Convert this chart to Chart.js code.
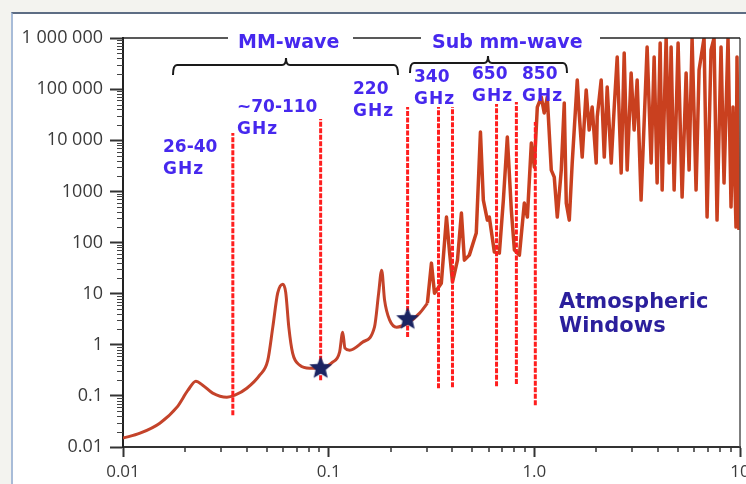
<!DOCTYPE html>
<html>
<head>
<meta charset="utf-8">
<script src="https://cdn.jsdelivr.net/npm/chart.js@4"></script>
<style>
  html, body { margin: 0; padding: 0; background: #f3f3ef; }
  #frame { position: absolute; left: 11px; top: 12px; width: 735px; height: 472px; background: #fff;
           border-top: 2px solid #5d6d84; border-left: 2px solid #a8bcd8; box-sizing: border-box; }
  #chart { position: absolute; left: 0; top: 0; }
</style>
</head>
<body>
<div id="frame"></div>
<canvas id="chart" width="746" height="484"></canvas>
<script>
// attenuation curve, frequency in THz
const freqTHz = [
  0.0100, 0.0121, 0.0151, 0.0183, 0.0207, 0.0226, 0.0244, 0.0273, 0.0320, 0.0350,
  0.0400, 0.0462, 0.0506, 0.0535, 0.0565, 0.0598, 0.0618, 0.0640, 0.0668, 0.0723,
  0.0809, 0.0904, 0.1045, 0.113, 0.117, 0.120, 0.1265, 0.146, 0.167, 0.175,
  0.181, 0.187, 0.198, 0.214, 0.242, 0.277, 0.302, 0.316, 0.327, 0.353,
  0.374, 0.387, 0.400, 0.423, 0.442, 0.457, 0.483, 0.522, 0.547, 0.565,
  0.591, 0.604, 0.639, 0.676, 0.707, 0.739, 0.773, 0.800, 0.846, 0.894,
  0.925, 0.967, 1.000, 1.034, 1.081, 1.117, 1.156, 1.209, 1.250, 1.293,
  1.352, 1.398, 1.430, 1.479, 1.528, 1.617, 1.652, 1.709, 1.787, 1.848,
  1.911, 1.999, 2.022, 2.114, 2.188, 2.261, 2.365, 2.446, 2.529, 2.644,
  2.735, 2.827, 2.956, 3.056, 3.162, 3.304, 3.535, 3.698, 3.824, 3.954,
  4.091, 4.183, 4.374, 4.522, 4.624, 4.783, 5.000, 5.230, 5.470, 5.655,
  5.848, 6.115, 6.324, 6.686, 6.917, 7.232, 7.478, 7.733, 8.087, 8.363,
  8.745, 9.044, 9.248, 9.563, 9.670, 9.886
];
const attenuation = [
  0.0149, 0.0186, 0.0292, 0.0601, 0.129, 0.194, 0.162, 0.113, 0.094, 0.103,
  0.141, 0.254, 0.499, 2.21, 10.2, 15.3, 10.7, 2.21, 0.684, 0.399,
  0.348, 0.348, 0.456, 0.716, 1.76, 0.857, 0.783, 1.12, 2.21, 10.2,
  28.8, 7.46, 3.03, 2.21, 2.65, 4.15, 6.51, 39.5, 10.2, 16.0,
  314, 64.9, 16.8, 45.2, 376, 45.2, 56.6, 153, 14450, 676,
  274, 314, 64.9, 62.0, 676, 11560, 430, 71.0, 56.6, 590,
  314, 8820, 2990, 44650, 70000, 34060, 70000, 2610, 1905, 314,
  2610, 53450, 590, 274, 3580, 150700, 34060, 4690, 96000, 15850,
  44650, 3580, 28440, 150700, 4690, 110000, 3580, 44650, 424700, 2280,
  508500, 2610, 206500, 15850, 150700, 676, 666800, 3580, 424700, 1453,
  798000, 1060, 1000000, 3580, 666800, 1060, 798000, 773, 206500, 2610,
  1000000, 1060, 236600, 1000000, 314, 582000, 1000000, 274, 666800, 1453,
  1000000, 493, 44650, 200, 424700, 175
];

// dashed "window" markers
const windowFreqs = [0.0342, 0.0914, 0.242, 0.342, 0.400, 0.655, 0.818, 1.011];
const windowTop = [13800, 26000, 44650, 44650, 44650, 51000, 56000, 22700];
const windowBottom = [0.0419, 0.203, 1.41, 0.141, 0.148, 0.155, 0.170, 0.0658];

const starFreqs = [0.0914, 0.242];
const starValues = [0.348, 3.17];

const xTicks = [0.01, 0.1, 1, 10];
const xTickLabels = ['0.01', '0.1', '1.0', '10'];
const yTicks = [0.01, 0.1, 1, 10, 100, 1000, 10000, 100000, 1000000];
const yTickLabels = ['0.01', '0.1', '1', '10', '100', '1000', '10 000', '100 000', '1 000 000'];

const windowLabels = [['26-40', 'GHz'], ['~70-110', 'GHz'], ['220', 'GHz'], ['340', 'GHz'], ['650', 'GHz'], ['850', 'GHz']];
const bandLabels = ['MM-wave', 'Sub mm-wave'];
const noteLabel = ['Atmospheric', 'Windows'];

// smooth below ~0.3 THz, sharp lines above
const splitAt = freqTHz.indexOf(0.302);

function makeStar(r) {
  const c = document.createElement('canvas');
  c.width = c.height = r * 2 + 2;
  const g = c.getContext('2d');
  g.fillStyle = '#1b2462';
  g.beginPath();
  for (let i = 0; i < 10; i++) {
    const rad = i % 2 ? r * 0.45 : r;
    const a = -Math.PI / 2 + i * Math.PI / 5;
    g.lineTo(c.width / 2 + rad * Math.cos(a), c.height / 2 + rad * Math.sin(a));
  }
  g.closePath();
  g.fill();
  return c;
}

const minorTicks = {
  id: 'minorTicks',
  afterDraw(chart) {
    const { ctx, chartArea: a, scales: { x, y } } = chart;
    ctx.save();
    ctx.strokeStyle = '#333';
    ctx.lineWidth = 1.5;
    ctx.beginPath();
    for (let d = -2; d < 1; d++) {
      for (let m = 2; m < 10; m++) {
        const px = Math.round(x.getPixelForValue(m * Math.pow(10, d)));
        ctx.moveTo(px, a.bottom);
        ctx.lineTo(px, a.bottom + 5);
      }
    }
    ctx.stroke();
    ctx.lineWidth = 1;
    ctx.strokeStyle = '#444';
    ctx.beginPath();
    for (let d = -2; d < 6; d++) {
      for (let m = 2; m < 10; m++) {
        const py = Math.round(y.getPixelForValue(m * Math.pow(10, d))) + 0.5;
        ctx.moveTo(a.left - 6, py);
        ctx.lineTo(a.left, py);
      }
    }
    ctx.stroke();
    ctx.restore();
  }
};

function bracket(ctx, x1, x2, xc, y, drop, rise) {
  ctx.beginPath();
  ctx.moveTo(x1, y + drop);
  ctx.quadraticCurveTo(x1, y, x1 + 4, y);
  ctx.lineTo(xc - 4, y);
  ctx.quadraticCurveTo(xc, y, xc, y - rise);
  ctx.quadraticCurveTo(xc, y, xc + 4, y);
  ctx.lineTo(x2 - 4, y);
  ctx.quadraticCurveTo(x2, y, x2, y + drop);
  ctx.stroke();
}

const annotations = {
  id: 'annotations',
  afterDraw(chart) {
    const { ctx, chartArea: a } = chart;
    ctx.save();
    // frame
    ctx.strokeStyle = '#555';
    ctx.lineWidth = 1.5;
    ctx.beginPath();
    ctx.moveTo(a.right, a.top);
    ctx.lineTo(a.right, a.bottom);
    ctx.stroke();
    ctx.strokeStyle = '#222';
    ctx.beginPath();
    ctx.moveTo(a.left, a.top);
    ctx.lineTo(a.right, a.top);
    ctx.stroke();

    // band titles over the top frame line
    ctx.textBaseline = 'middle';
    ctx.textAlign = 'left';
    ctx.font = 'bold 19px "DejaVu Sans"';
    ctx.fillStyle = '#fff';
    ctx.fillRect(228, 28, 125, 22);
    ctx.fillRect(421, 28, 179, 22);
    ctx.fillStyle = '#4628ee';
    ctx.fillText(bandLabels[0], 238, 43);
    ctx.fillText(bandLabels[1], 432, 43);

    ctx.strokeStyle = '#1a1a1a';
    ctx.lineWidth = 2;
    bracket(ctx, 173, 398, 286, 65, 10, 7);
    bracket(ctx, 410, 567, 488, 63, 10, 7);

    // frequency labels
    const pos = [[163, 148], [237, 108], [353, 90], [414, 78], [472, 75], [522, 75]];
    ctx.font = 'bold 17px "DejaVu Sans"';
    ctx.fillStyle = '#4628ee';
    windowLabels.forEach((t, i) => {
      ctx.fillText(t[0], pos[i][0], pos[i][1]);
      ctx.letterSpacing = '1px';
      ctx.fillText(t[1], pos[i][0], pos[i][1] + 22);
      ctx.letterSpacing = '0px';
    });

    ctx.font = 'bold 21px "DejaVu Sans"';
    ctx.fillStyle = '#2b1f9c';
    ctx.fillText(noteLabel[0], 559, 303);
    ctx.fillText(noteLabel[1], 559, 327);
    ctx.restore();
  }
};

const curvePoints = freqTHz.map((f, i) => ({ x: f, y: attenuation[i] }));

const datasets = [
  {
    label: 'windows marked',
    data: starFreqs.map((f, i) => ({ x: f, y: starValues[i] })),
    showLine: false,
    pointStyle: makeStar(12),
    pointRadius: 12
  },
  ...windowFreqs.map((f, i) => ({
    label: 'window ' + i,
    data: [{ x: f, y: windowBottom[i] }, { x: f, y: windowTop[i] }],
    borderColor: '#ff1e1e',
    borderWidth: 3,
    borderDash: [5, 1.5],
    pointRadius: 0
  })),
  {
    label: 'attenuation (low)',
    data: curvePoints.slice(0, splitAt + 1),
    borderColor: '#c4432a',
    borderWidth: 3,
    pointRadius: 0,
    cubicInterpolationMode: 'monotone'
  },
  {
    label: 'attenuation (high)',
    data: curvePoints.slice(splitAt),
    borderColor: '#c9401f',
    borderWidth: 3.5,
    borderJoinStyle: 'round',
    pointRadius: 0,
    tension: 0
  }
];

new Chart(document.getElementById('chart'), {
  type: 'line',
  data: { datasets },
  options: {
    responsive: false,
    animation: false,
    devicePixelRatio: 1,
    layout: { autoPadding: false, padding: { top: 38, right: 6, left: 0, bottom: 0 } },
    plugins: { legend: { display: false }, tooltip: { enabled: false } },
    scales: {
      x: {
        type: 'logarithmic',
        min: 0.01,
        max: 10,
        afterBuildTicks: s => { s.ticks = xTicks.map(v => ({ value: v })); },
        afterFit: s => { s.height = 37; s.paddingLeft = 0; s.paddingRight = 0; },
        ticks: {
          autoSkip: false,
          maxRotation: 0,
          padding: 5,
          color: '#3a3a3a',
          font: { family: 'Open Sans', size: 17 },
          callback: (v, i) => xTickLabels[i]
        },
        grid: { drawOnChartArea: false, tickLength: 10, tickWidth: 2, tickColor: '#333' },
        border: { display: true, color: '#333', width: 2 }
      },
      y: {
        type: 'logarithmic',
        min: 0.01,
        max: 1000000,
        afterBuildTicks: s => { s.ticks = yTicks.map(v => ({ value: v })); },
        afterFit: s => { s.width = 123; s.paddingTop = 0; s.paddingBottom = 0; },
        ticks: {
          autoSkip: false,
          padding: 7,
          color: '#3a3a3a',
          font: { family: 'Open Sans', size: 18 },
          callback: (v, i) => yTickLabels[i]
        },
        grid: { drawOnChartArea: false, tickLength: 13, tickWidth: 2, tickColor: '#333' },
        border: { display: true, color: '#222', width: 2 }
      }
    }
  },
  plugins: [minorTicks, annotations]
});
</script>
</body>
</html>
